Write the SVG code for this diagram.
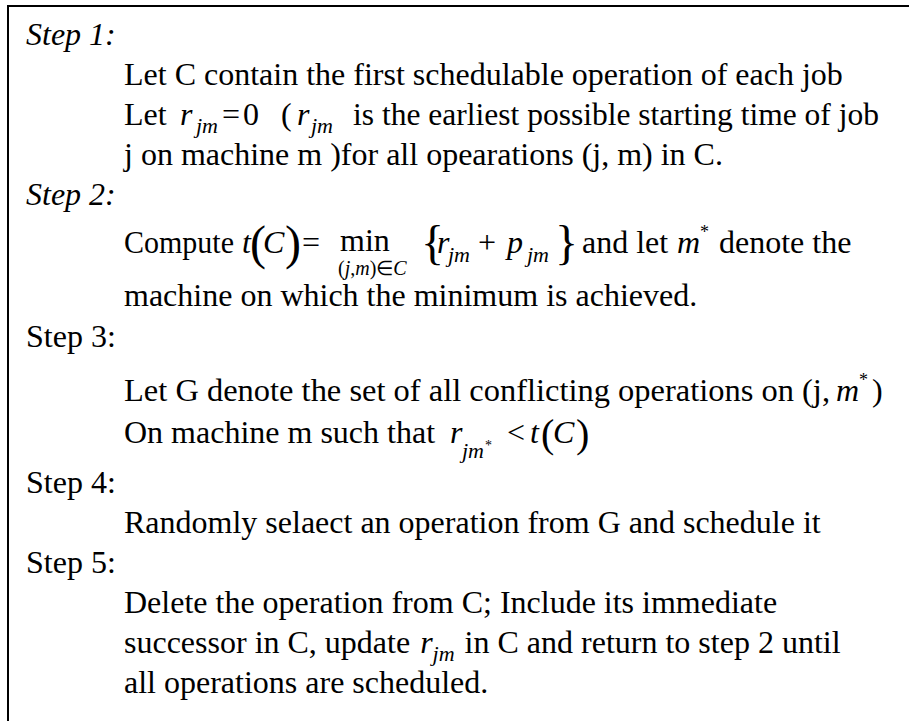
<svg xmlns="http://www.w3.org/2000/svg" width="909" height="721" viewBox="0 0 909 721">
  <style>
    text { font-family: "Liberation Serif", "Times New Roman", serif; font-size: 32px; fill: #000; }
    .it { font-style: italic; }
    .sub { font-size: 22px; font-style: italic; }
    .under { font-size: 20px; font-style: italic; }
    .sup { font-size: 18px; }
    .ssup { font-size: 14px; }
    .big { font-size: 48px; }
    .mid { font-size: 40px; }
    .frame { fill: none; stroke: #000; stroke-width: 2; }
  </style>
  <rect width="909" height="721" fill="#fff"/>
  <!-- open frame: top and left edges only -->
  <path class="frame" d="M8,721 V6 H909"/>

  <g id="step1">
    <text class="it" x="26" y="45">Step 1:</text>
    <text x="124" y="85">Let C contain the first schedulable operation of each job</text>
    <text x="124" y="125">Let</text>
    <text class="it" x="180" y="125">r</text>
    <text class="sub" x="196" y="133">jm</text>
    <text x="222" y="125">=</text>
    <text x="243" y="125">0</text>
    <text x="281" y="125">(</text>
    <text class="it" x="297" y="125">r</text>
    <text class="sub" x="311" y="133">jm</text>
    <text x="353" y="125" textLength="526" lengthAdjust="spacingAndGlyphs">is the earliest possible starting time of job</text>
    <text x="124" y="165">j on machine m )for all opearations (j, m) in C.</text>
  </g>

  <g id="step2">
    <text class="it" x="26" y="205">Step 2:</text>
    <text x="124" y="253" textLength="110" lengthAdjust="spacingAndGlyphs">Compute</text>
    <text class="it" x="242" y="253">t</text>
    <text class="big" x="250" y="259">(</text>
    <text class="it" x="263" y="253">C</text>
    <text class="big" x="285" y="259">)</text>
    <text x="302" y="253">=</text>
    <text x="340" y="251">min</text>
    <text class="under" x="338" y="275"><tspan font-style="normal">(</tspan>j<tspan font-style="normal">,</tspan>m<tspan font-style="normal">)∈</tspan>C</text>
    <text class="big" x="421" y="259">{</text>
    <text class="it" x="437" y="253">r</text>
    <text class="sub" x="448" y="262">jm</text>
    <text x="478" y="253">+</text>
    <text class="it" x="507" y="253">p</text>
    <text class="sub" x="527" y="262">jm</text>
    <text class="big" x="555" y="259">}</text>
    <text x="582" y="253">and let</text>
    <text class="it" x="677" y="253">m</text>
    <text class="sup" x="700" y="238">*</text>
    <text x="719" y="253">denote the</text>
    <text x="124" y="306">machine on which the minimum is achieved.</text>
  </g>

  <g id="step3">
    <text x="26" y="347">Step 3:</text>
    <text x="124" y="401" textLength="706" lengthAdjust="spacingAndGlyphs">Let G denote the set of all conflicting operations on (j,</text>
    <text class="it" x="836" y="401">m</text>
    <text class="sup" x="859" y="386">*</text>
    <text x="872" y="401">)</text>
    <text x="124" y="443">On machine m such that</text>
    <text class="it" x="450" y="443">r</text>
    <text class="sub" x="462" y="458">jm</text>
    <text class="ssup" x="485" y="450">*</text>
    <text x="507" y="443">&lt;</text>
    <text class="it" x="530" y="443">t</text>
    <text class="mid" x="541" y="447">(</text>
    <text class="it" x="553" y="443">C</text>
    <text class="mid" x="576" y="447">)</text>
  </g>

  <g id="step4">
    <text x="26" y="493">Step 4:</text>
    <text x="124" y="533">Randomly selaect an operation from G and schedule it</text>
  </g>

  <g id="step5">
    <text x="26" y="573">Step 5:</text>
    <text x="124" y="613">Delete the operation from C; Include its immediate</text>
    <text x="124" y="653">successor in C, update<tspan class="it" dx="10">r</tspan><tspan class="sub" dy="8">jm</tspan><tspan dx="10" dy="-8">in C and return to step 2 until</tspan></text>
    <text x="124" y="693">all operations are scheduled.</text>
  </g>
</svg>
